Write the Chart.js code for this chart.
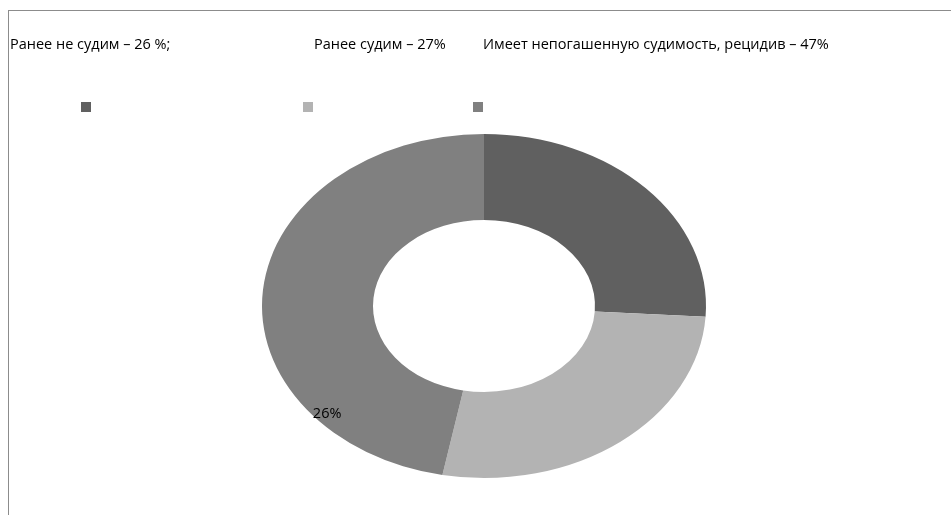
<!DOCTYPE html>
<html>
<head>
<meta charset="utf-8">
<script src="https://cdn.jsdelivr.net/npm/chart.js@4"></script>
<style>
	html, body { margin: 0; padding: 0; background: #fff; overflow: hidden; }
	#wrap { position: relative; width: 951px; height: 515px; }
	#frame {
		position: absolute; left: 8px; top: 10px; right: -10px; bottom: -10px;
		border-left: 1px solid #8c8c8c; border-top: 1px solid #8c8c8c;
	}
	#chart { position: absolute; left: 0; top: 0; }
</style>
</head>
<body>
<div id="wrap">
	<div id="frame"></div>
	<canvas id="chart" width="951" height="515"></canvas>
</div>
<script>
// categories and values
const categories = [
	'Ранее не судим – 26 %;',
	'Ранее судим – 27%',
	'Имеет непогашенную судимость, рецидив – 47%',
];
const values = [26, 27, 47];
const colors = ['#606060', '#b3b3b3', '#808080'];

// layout (ellipse + header/legend positions)
const CX = 484, CY = 306, RX = 222, RY = 172;
const headerX = [10, 314, 483];
const legendX = [81, 303, 473];

// squash the doughnut into an ellipse
const ellipsePlugin = {
	id: 'ellipse',
	beforeDatasetsDraw(chart) {
		const arc = chart.getDatasetMeta(0).data[0];
		const ctx = chart.ctx;
		const r = arc.outerRadius;
		ctx.save();
		ctx.translate(CX, CY);
		ctx.scale(RX / r, RY / r);
		ctx.translate(-arc.x, -arc.y);
	},
	afterDatasetsDraw(chart) {
		chart.ctx.restore();
	},
};

// header texts, legend squares and the single data label
const textPlugin = {
	id: 'texts',
	afterDraw(chart) {
		const ctx = chart.ctx;
		ctx.save();
		ctx.fillStyle = '#000';
		ctx.font = '14.5px "Open Sans", sans-serif';
		ctx.textBaseline = 'alphabetic';
		ctx.textAlign = 'left';
		categories.forEach((c, i) => ctx.fillText(c, headerX[i], 49));

		colors.forEach((col, i) => {
			ctx.fillStyle = col;
			ctx.fillRect(legendX[i], 102, 10, 10);
		});

		const arc = chart.getDatasetMeta(0).data[2];
		const a = arc.startAngle + 0.225 * (arc.endAngle - arc.startAngle);
		ctx.fillStyle = '#000';
		ctx.textAlign = 'center';
		ctx.textBaseline = 'middle';
		ctx.fillText(values[0] + '%', CX + Math.cos(a) * RX * 0.95 + 2, CY + Math.sin(a) * RY * 0.95);
		ctx.restore();
	},
};

new Chart(document.querySelector('#chart').getContext('2d'), {
	type: 'doughnut',
	data: {
		labels: categories,
		datasets: [
			{
				data: values,
				backgroundColor: colors,
				borderWidth: 0,
			},
		],
	},
	options: {
		responsive: false,
		animation: false,
		cutout: '50%',
		layout: { padding: { top: 130, bottom: 40 } },
		plugins: {
			legend: { display: false },
			tooltip: { enabled: false },
		},
	},
	plugins: [ellipsePlugin, textPlugin],
});
</script>
</body>
</html>
